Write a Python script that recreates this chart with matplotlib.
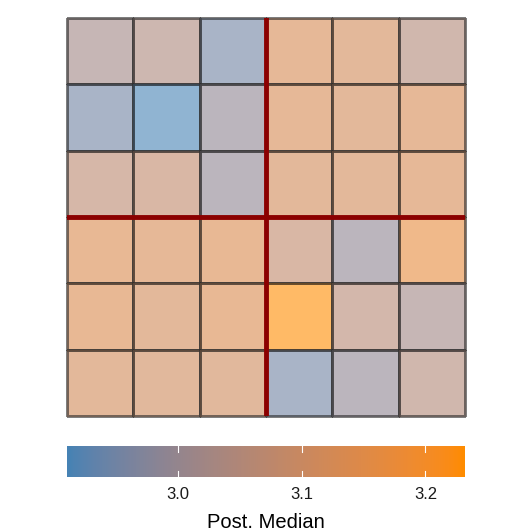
import matplotlib
matplotlib.use("Agg")
import matplotlib.pyplot as plt
import numpy as np
from matplotlib.colors import ListedColormap, Normalize

# posterior medians, rows top -> bottom, cols left -> right
med_r1 = [3.02, 3.04, 2.95, 3.13, 3.12, 3.05]
med_r2 = [2.95, 2.91, 2.99, 3.13, 3.12, 3.13]
med_r3 = [3.07, 3.08, 2.99, 3.12, 3.12, 3.13]
med_r4 = [3.14, 3.13, 3.14, 3.08, 2.99, 3.17]
med_r5 = [3.14, 3.12, 3.14, 3.232, 3.06, 3.02]
med_r6 = [3.12, 3.11, 3.11, 2.95, 2.99, 3.05]
cb_ticks = [3.0, 3.1, 3.2]


def srgb2lab(rgb):
    c = np.asarray(rgb, float)
    c = np.where(c <= 0.04045, c / 12.92, ((c + 0.055) / 1.055) ** 2.4)
    M = np.array([[0.4124, 0.3576, 0.1805],
                  [0.2126, 0.7152, 0.0722],
                  [0.0193, 0.1192, 0.9505]])
    xyz = M @ c / np.array([0.95047, 1.0, 1.08883])
    f = np.where(xyz > 0.008856, np.cbrt(xyz), 7.787 * xyz + 16 / 116)
    return np.array([116 * f[1] - 16, 500 * (f[0] - f[1]), 200 * (f[1] - f[2])])


def lab2srgb(lab):
    L, a, b = lab
    fy = (L + 16) / 116
    f = np.array([fy + a / 500, fy, fy - b / 200])
    xyz = np.where(f ** 3 > 0.008856, f ** 3, (f - 16 / 116) / 7.787)
    xyz = xyz * np.array([0.95047, 1.0, 1.08883])
    Mi = np.array([[3.2406, -1.5372, -0.4986],
                   [-0.9689, 1.8758, 0.0415],
                   [0.0557, -0.2040, 1.0570]])
    c = Mi @ xyz
    c = np.where(c <= 0.0031308, 12.92 * c, 1.055 * np.clip(c, 0, None) ** (1 / 2.4) - 0.055)
    return np.clip(c, 0, 1)


# gradient steelblue -> darkorange interpolated in Lab
lo = srgb2lab(matplotlib.colors.to_rgb("steelblue"))
hi = srgb2lab(matplotlib.colors.to_rgb("darkorange"))
cmap = ListedColormap([lab2srgb(lo + t * (hi - lo)) for t in np.linspace(0, 1, 256)])

Z = np.array([med_r1, med_r2, med_r3, med_r4, med_r5, med_r6])
vmin, vmax = Z.min(), Z.max()
norm = Normalize(vmin, vmax)

fig = plt.figure(figsize=(5.32, 5.32), dpi=100)
plt.rcParams['font.family'] = ['Liberation Sans', 'DejaVu Sans']

ax = fig.add_axes([67 / 532, 1 - 416 / 532, 398 / 532, 398 / 532])
mesh = ax.pcolormesh(np.arange(7), np.arange(7), Z, cmap=cmap, norm=norm, alpha=0.6,
                     edgecolors='#2a2a2a', linewidth=0.75)
mesh.set_clip_on(False)
ax.set_xlim(0, 6)
ax.set_ylim(6, 0)
ax.axvline(3, color='darkred', lw=3.5)
ax.axhline(3, color='darkred', lw=3.5)
for s in ax.spines.values():
    s.set_visible(False)
ax.set_xticks([])
ax.set_yticks([])

cax = fig.add_axes([67 / 532, 1 - 477 / 532, 398 / 532, 31 / 532])
grad = np.linspace(vmin, vmax, 300)
cax.imshow(grad[None, :], aspect='auto', cmap=cmap, norm=norm,
           extent=[vmin, vmax, 0, 1])
cax.set_xlim(vmin, vmax)
cax.set_ylim(0, 1)
for t in cb_ticks:
    cax.plot([t, t], [0, 0.2], color='white', lw=0.8)
    cax.plot([t, t], [0.8, 1], color='white', lw=0.8)
for s in cax.spines.values():
    s.set_visible(False)
cax.set_yticks([])
cax.set_xticks(cb_ticks)
cax.set_xticklabels(['%.1f' % t for t in cb_ticks], fontsize=12, color='#1a1a1a')
cax.tick_params(axis='x', length=0, pad=7)
cax.set_xlabel('Post. Median', fontsize=14.5, labelpad=8)

fig.savefig('out.png', dpi=100)
